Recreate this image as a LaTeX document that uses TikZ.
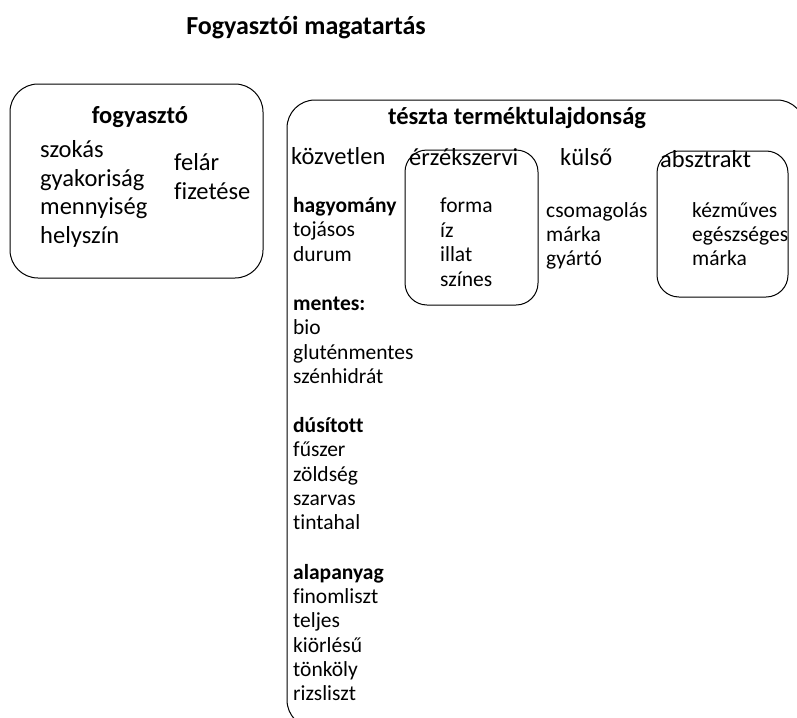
\documentclass[tikz,border=0pt]{standalone}
\usepackage{fontspec}
\setmainfont[Ligatures=NoCommon]{Carlito}
\usetikzlibrary{positioning}

\tikzset{
  doboz/.style={draw, rounded corners=28pt, line width=1pt},
  kisdoboz/.style={draw, rounded corners=22pt, line width=1pt},
  cim/.style={font=\fontsize{26}{28}\selectfont\bfseries},
  fej/.style={font=\fontsize{24.5}{26}\selectfont\bfseries},
  nagy/.style={anchor=west, inner sep=0pt, font=\fontsize{24.5}{26}\selectfont,
    text height=0.7em, text depth=0.2em},
  kicsi/.style={anchor=west, inner sep=0pt, font=\fontsize{21.5}{23}\selectfont,
    text height=0.7em, text depth=0.2em},
  kfej/.style={kicsi, font=\fontsize{21.5}{23}\selectfont\bfseries},
}

\begin{document}
\begin{tikzpicture}[x=1pt, y=-1pt]
  \clip (0,0) rectangle (797,717);
  \node[cim] (cim) at (306,28) {Fogyasztói magatartás};

  % fogyaszto
  \draw[doboz] (10,84) rectangle (263,278);
  \node[fej] (fogy) at (140,117) {fogyasztó};
  \foreach \t [count=\i] in {szokás, gyakoriság, mennyiség, helyszín}
    \node[nagy] (fogy-\i) at (40, {126.5 + 28.5*\i}) {\t};
  \node[nagy] (felar) at (174,168) {felár};
  \node[nagy] (fizetes) at (174,197) {fizetése};

  % teszta
  \draw[doboz] (287,100) rectangle (805,728);
  \node[fej] (teszta) at (517,118) {tészta terméktulajdonság};

  \node[nagy] (kozv) at (291,162) {közvetlen};
  \draw[kisdoboz] (405,150) rectangle (538,305);
  \node[nagy] (erzek) at (409,163) {érzékszervi};
  \foreach \t [count=\i] in {forma, íz, illat, színes}
    \node[kicsi] (erzek-\i) at (440, {185.5 + 24.5*\i}) {\t};
  \node[nagy] (kulso) at (560,163) {külső};
  \foreach \t [count=\i] in {csomagolás, márka, gyártó}
    \node[kicsi] (kulso-\i) at (546, {190.5 + 24.3*\i}) {\t};
  \draw[kisdoboz] (657,151) rectangle (788,297);
  \node[nagy] (absz) at (660,165) {absztrakt};
  \foreach \t [count=\i] in {kézműves, egészséges, márka}
    \node[kicsi] (absz-\i) at (692, {190.5 + 24.3*\i}) {\t};

  % kozvetlen oszlop
  \node[kfej] (hagy) at (293,210) {hagyomány};
  \foreach \t [count=\i] in {tojásos, durum}
    \node[kicsi] (hagy-\i) at (293, {210 + 24.3*\i}) {\t};
  \node[kfej] (ment) at (293,308) {mentes:};
  \foreach \t [count=\i] in {bio, gluténmentes, szénhidrát}
    \node[kicsi] (ment-\i) at (293, {308 + 24.3*\i}) {\t};
  \node[kfej] (dus) at (293,430) {dúsított};
  \foreach \t [count=\i] in {fűszer, zöldség, szarvas, tintahal}
    \node[kicsi] (dus-\i) at (293, {430 + 24.3*\i}) {\t};
  \node[kfej] (alap) at (293,577) {alapanyag};
  \foreach \t [count=\i] in {finomliszt, teljes, kiörlésű, tönköly, rizsliszt}
    \node[kicsi] (alap-\i) at (293, {577 + 24.2*\i}) {\t};
\end{tikzpicture}
\end{document}
